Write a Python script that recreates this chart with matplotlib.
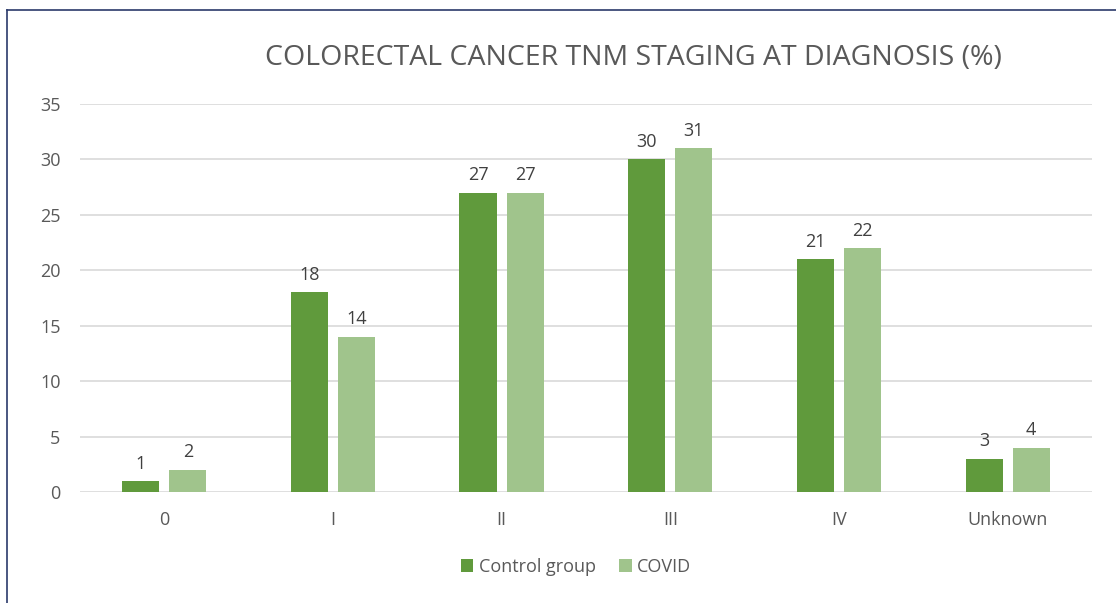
import matplotlib
matplotlib.use("Agg")
import matplotlib.pyplot as plt
from matplotlib.lines import Line2D
import numpy as np

categories = ["0", "I", "II", "III", "IV", "Unknown"]
control = [1, 18, 27, 30, 21, 3]
covid = [2, 14, 27, 31, 22, 4]
series_names = ["Control group", "COVID"]
yticks = [0, 5, 10, 15, 20, 25, 30, 35]

plt.rcParams['font.family'] = ['Open Sans', 'DejaVu Sans']

W, H = 1116, 603
fig = plt.figure(figsize=(W / 100, H / 100), dpi=100)
ax = fig.add_axes([80 / W, 1 - 492 / H, (1092 - 80) / W, (492 - 104) / H])

x = np.arange(len(categories))
bw = 0.22
off = 0.14
c1, c2 = "#609A3C", "#A0C48C"
b1 = ax.bar(x - off, control, bw, color=c1, label=series_names[0], zorder=3)
b2 = ax.bar(x + off, covid, bw, color=c2, label=series_names[1], zorder=3)

for bars, vals in ((b1, control), (b2, covid)):
    for r, v in zip(bars, vals):
        ax.annotate(str(v), (r.get_x() + r.get_width() / 2, v), xytext=(0, 6),
                    textcoords="offset points", ha="center", va="bottom",
                    fontsize=13, color="#404040")

ax.set_xlim(-0.5, len(categories) - 0.5)
ax.set_ylim(0, 35)
ax.set_yticks(yticks)
ax.set_xticks(x)
ax.set_xticklabels(categories)
ax.yaxis.grid(True, color="#D9D9D9", linewidth=1.2, zorder=0)
ax.set_axisbelow(True)
for s in ax.spines.values():
    s.set_visible(False)
ax.tick_params(axis="both", length=0, labelsize=13, labelcolor="#595959")
ax.tick_params(axis="y", pad=14)
ax.tick_params(axis="x", pad=14)

fig.text(633 / W, 1 - 58 / H, "COLORECTAL CANCER TNM STAGING AT DIAGNOSIS (%)",
         ha="center", va="center", fontsize=20.5, color="#595959")

leg = fig.legend(handles=[b1, b2], loc="center", bbox_to_anchor=(576 / W, 1 - 567 / H),
                 ncol=2, frameon=False, fontsize=13, handlelength=0.7, handleheight=0.7,
                 handletextpad=0.3, columnspacing=1.3)
for t in leg.get_texts():
    t.set_color("#595959")

border = "#2B3A6B"
fig.add_artist(Line2D([7 / W, 1], [1 - 10 / H, 1 - 10 / H], color=border, linewidth=1.2,
                      transform=fig.transFigure))
fig.add_artist(Line2D([7 / W, 7 / W], [1 - 10 / H, 0], color=border, linewidth=1.2,
                      transform=fig.transFigure))

fig.savefig("out.png", dpi=100)
